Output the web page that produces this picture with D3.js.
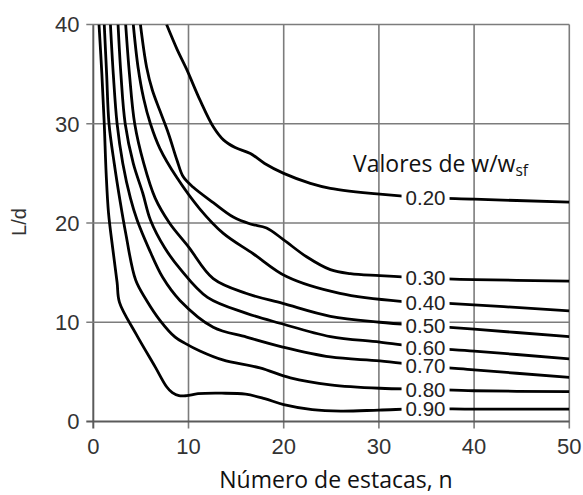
<!DOCTYPE html>
<html><head><meta charset="utf-8">
<script src="https://cdn.jsdelivr.net/npm/d3@7"></script>
<style>html,body{margin:0;padding:0;background:#fff;}svg{display:block;}</style>
</head><body>
<script>
const xTicks = [0, 10, 20, 30, 40, 50];
const yTicks = [0, 10, 20, 30, 40];
const ratioLabels = ["0.20", "0.30", "0.40", "0.50", "0.60", "0.70", "0.80", "0.90"];

const curve020 = [[7.7,40],[8.8,37.5],[9.8,35.5],[11.2,32.4],[12.6,29.7],[13.7,28.35],[14.9,27.6],[16.5,27.0],[18.0,26.0],[20.0,25.0],[22.8,24.0],[24.9,23.5],[30.1,22.9],[34.9,22.55],[40,22.4],[50,22.1]];
const curve030 = [[4.95,40],[5.6,35.7],[6.2,33.4],[7.0,31.3],[7.9,29.0],[8.8,26.3],[9.45,24.65],[10.5,23.6],[12.6,22.05],[14.7,20.6],[16.5,19.9],[18.2,19.5],[20.0,18.3],[22.4,16.6],[24.9,15.3],[27,14.9],[30.1,14.7],[34.9,14.45],[40,14.3],[50,14.15]];
const curve040 = [[4.2,40],[4.7,35.7],[5.3,32.5],[6.0,30],[7.0,27.5],[8.76,24.6],[11.2,21.4],[13.66,18.95],[16.8,16.9],[20.3,14.6],[25.9,12.9],[32.3,12.1],[37.3,11.9],[50,11.15]];
const curve050 = [[3.4,40],[3.8,35],[4.35,30],[5.3,26],[6.5,22.5],[8,20],[10,17.6],[12.6,14.4],[16.1,12.9],[19.9,11.9],[24.9,10.6],[30.1,10.0],[34.9,9.65],[40,9.3],[50,8.55]];
const curve060 = [[2.6,40],[2.9,35],[3.35,30],[4.2,26],[5.2,23],[6.0,20.3],[7.5,17.5],[9.1,15.4],[12.0,12.5],[16.1,10.9],[19.6,9.9],[24.9,8.55],[30.1,8.0],[34.9,7.45],[40,7.1],[50,6.3]];
const curve070 = [[1.8,40],[2.1,35],[2.5,30],[3.1,26],[3.9,22.5],[4.6,20.3],[5.8,17.5],[7.3,14.5],[9.1,12.2],[12.6,9.5],[16.1,8.5],[19.9,7.5],[24.9,6.5],[30.1,6.1],[34.9,5.6],[40,5.2],[50,4.45]];
const curve080 = [[1.15,40],[1.4,35],[1.65,30],[2.2,26],[2.8,22.3],[3.4,19],[4.45,14.25],[5.6,12.2],[7.0,10.2],[8.6,8.5],[9.6,7.9],[11.2,7.1],[13.6,6.2],[17.5,5.4],[20.7,4.4],[24.9,3.7],[30.1,3.35],[34.9,3.25],[40,3.1],[50,3.0]];
const curve090 = [[0.6,40],[0.9,35],[1.15,30],[1.35,25],[1.6,21],[2.1,17],[2.5,14],[2.75,12],[4.5,8.8],[6.5,5.5],[7.7,3.5],[8.3,2.9],[9.0,2.6],[9.8,2.6],[11,2.8],[13.5,2.85],[16,2.75],[18,2.3],[20,1.7],[23,1.2],[26,1.05],[30,1.15],[34.9,1.3],[40,1.25],[50,1.25]];

const curves = [curve020, curve030, curve040, curve050, curve060, curve070, curve080, curve090];

const W = 583, H = 495;
const pLeft = 93.3, pRight = 569.3, pTop = 24.5, pBottom = 421.5;
const labelX = 34.9;

const svg = d3.select("body").append("svg").attr("width", W).attr("height", H);
const x = d3.scaleLinear().domain([0, 50]).range([pLeft, pRight]);
const y = d3.scaleLinear().domain([0, 40]).range([pBottom, pTop]);

const gridColor = "#7c7c7c";
const grid = svg.append("g");
grid.selectAll("line.v").data(xTicks).join("line").attr("class", "v")
  .attr("x1", d => x(d)).attr("x2", d => x(d))
  .attr("y1", pTop).attr("y2", pBottom + 7)
  .attr("stroke", d => d === 0 ? "#5a5a5a" : gridColor).attr("stroke-width", d => d === 0 ? 2 : 1.6);
grid.selectAll("line.h").data(yTicks).join("line").attr("class", "h")
  .attr("y1", d => y(d)).attr("y2", d => y(d))
  .attr("x1", pLeft - 7).attr("x2", pRight)
  .attr("stroke", d => d === 0 ? "#5a5a5a" : gridColor).attr("stroke-width", d => d === 0 ? 2 : 1.6);

svg.append("g").selectAll("text").data(yTicks).join("text")
  .attr("x", 79.5).attr("y", d => y(d)).attr("dy", "0.36em")
  .attr("text-anchor", "end")
  .attr("font-family", "Liberation Sans, Arial, sans-serif").attr("font-size", 22)
  .attr("fill", "#333").text(d => d);
svg.append("g").selectAll("text").data(xTicks).join("text")
  .attr("x", d => x(d)).attr("y", 454)
  .attr("text-anchor", "middle")
  .attr("font-family", "Liberation Sans, Arial, sans-serif").attr("font-size", 22)
  .attr("fill", "#333").text(d => d);

svg.append("clipPath").attr("id", "clip").append("rect")
  .attr("x", pLeft).attr("y", pTop).attr("width", pRight - pLeft).attr("height", pBottom - pTop);

const line = d3.line().x(d => x(d[0])).y(d => y(d[1])).curve(d3.curveCatmullRom.alpha(0.5));
svg.append("g").attr("clip-path", "url(#clip)").selectAll("path").data(curves).join("path")
  .attr("d", line).attr("fill", "none").attr("stroke", "#000").attr("stroke-width", 2.8)
  .attr("stroke-linejoin", "round");

function yAt(c, xv) {
  for (let i = 0; i < c.length - 1; i++) {
    if (c[i][0] <= xv && c[i+1][0] >= xv) {
      const t = (xv - c[i][0]) / (c[i+1][0] - c[i][0]);
      return c[i][1] + t * (c[i+1][1] - c[i][1]);
    }
  }
  return c[c.length-1][1];
}
const lab = svg.append("g");
const labelData = curves.map((c, i) => ({ t: ratioLabels[i], yv: yAt(c, labelX) }));
lab.selectAll("rect").data(labelData).join("rect")
  .attr("x", x(labelX) - 24).attr("y", d => y(d.yv) - 7.5).attr("width", 48).attr("height", 15)
  .attr("fill", "#fff");
lab.selectAll("text").data(labelData).join("text")
  .attr("x", x(labelX)).attr("y", d => y(d.yv)).attr("dy", "0.36em")
  .attr("text-anchor", "middle")
  .attr("font-family", "Liberation Sans, Arial, sans-serif").attr("font-size", 20.5)
  .attr("fill", "#222").text(d => d.t);

const vt = svg.append("text").attr("x", 353).attr("y", 171.5)
  .attr("font-family", "Open Sans, sans-serif").attr("font-size", 23).attr("fill", "#111");
vt.append("tspan").text("Valores de w/w");
vt.append("tspan").attr("font-size", 15.5).attr("dy", 4).text("sf");

svg.append("text").attr("x", 336).attr("y", 488).attr("text-anchor", "middle")
  .attr("font-family", "Open Sans, sans-serif").attr("font-size", 23).attr("fill", "#111")
  .text("Número de estacas, n");
svg.append("text").attr("transform", "translate(26,222) rotate(-90)").attr("text-anchor", "middle")
  .attr("font-family", "Liberation Sans, Arial, sans-serif").attr("font-size", 20).attr("fill", "#333")
  .text("L/d");
</script>
</body></html>
